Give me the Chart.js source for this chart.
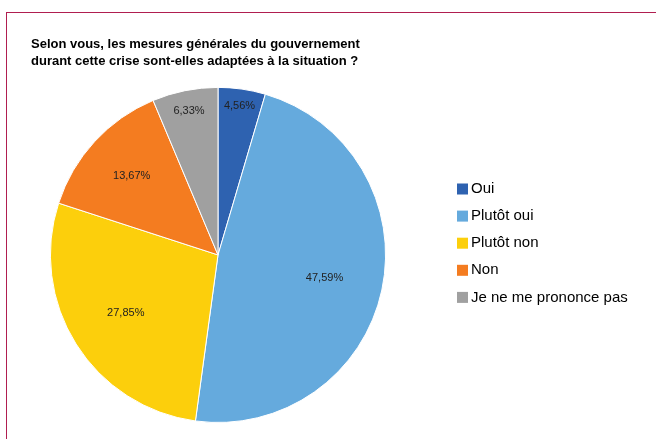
<!DOCTYPE html>
<html>
<head>
<meta charset="utf-8">
<script src="https://cdn.jsdelivr.net/npm/chart.js@4"></script>
<style>
  body { margin: 0; background: #fff; }
  #frame { position: absolute; left: 6px; top: 12px; width: 700px; height: 500px; border: 1px solid #b01e50; }
  #wrap { position: absolute; left: 0; top: 0; width: 656px; height: 439px; }
</style>
</head>
<body>
<div id="frame"></div>
<div id="wrap"><canvas id="myChart"></canvas></div>
<script>
var labels = ['Oui', 'Plutôt oui', 'Plutôt non', 'Non', 'Je ne me prononce pas'];
var values = [4.56, 47.59, 27.85, 13.67, 6.33];
var colors = ['#2e62b0', '#65aadd', '#fccf0c', '#f47c20', '#a0a0a0'];
var valueLabels = ['4,56%', '47,59%', '27,85%', '13,67%', '6,33%'];
// how far out each label sits, as a share of the radius
var labelPos = [0.9, 0.65, 0.65, 0.7, 0.875];

// percentages inside the slices + legend on the right
var pieLabels = {
    id: 'pieLabels',
    afterDatasetsDraw: function(chart) {
        var ctx = chart.ctx;
        var meta = chart.getDatasetMeta(0);
        ctx.save();
        ctx.font = '11px "Liberation Sans", Arial, sans-serif';
        ctx.fillStyle = '#222';
        ctx.textAlign = 'center';
        ctx.textBaseline = 'middle';
        meta.data.forEach(function(arc, i) {
            var mid = (arc.startAngle + arc.endAngle) / 2;
            var r = arc.outerRadius * labelPos[i];
            ctx.fillText(valueLabels[i], arc.x + Math.cos(mid) * r, arc.y + Math.sin(mid) * r);
        });

        // legend
        ctx.font = '15px "Liberation Sans", Arial, sans-serif';
        ctx.textAlign = 'left';
        labels.forEach(function(lab, i) {
            var y = 189 + i * 27.1;
            ctx.fillStyle = colors[i];
            ctx.fillRect(457, y - 5.5, 11, 11);
            ctx.fillStyle = '#000';
            ctx.fillText(lab, 471, y);
        });
        ctx.restore();
    }
};

var ctx = document.getElementById('myChart').getContext('2d');
var chart = new Chart(ctx, {
    type: 'pie',
    data: {
        labels: labels,
        datasets: [{
            data: values,
            backgroundColor: colors,
            borderColor: '#fff',
            borderWidth: 1
        }]
    },
    options: {
        responsive: true,
        maintainAspectRatio: false,
        animation: false,
        layout: { padding: { left: 31, right: 251, top: 35, bottom: 16 } },
        plugins: {
            legend: { display: false },
            tooltip: { enabled: false },
            title: {
                display: true,
                align: 'start',
                text: ['Selon vous, les mesures générales du gouvernement', 'durant cette crise sont-elles adaptées à la situation ?'],
                color: '#000',
                font: { family: '"Liberation Sans", Arial, sans-serif', size: 13, weight: 'bold', lineHeight: 1.38 },
                padding: { top: 0, bottom: 16 }
            }
        }
    },
    plugins: [pieLabels]
});
</script>
</body>
</html>
